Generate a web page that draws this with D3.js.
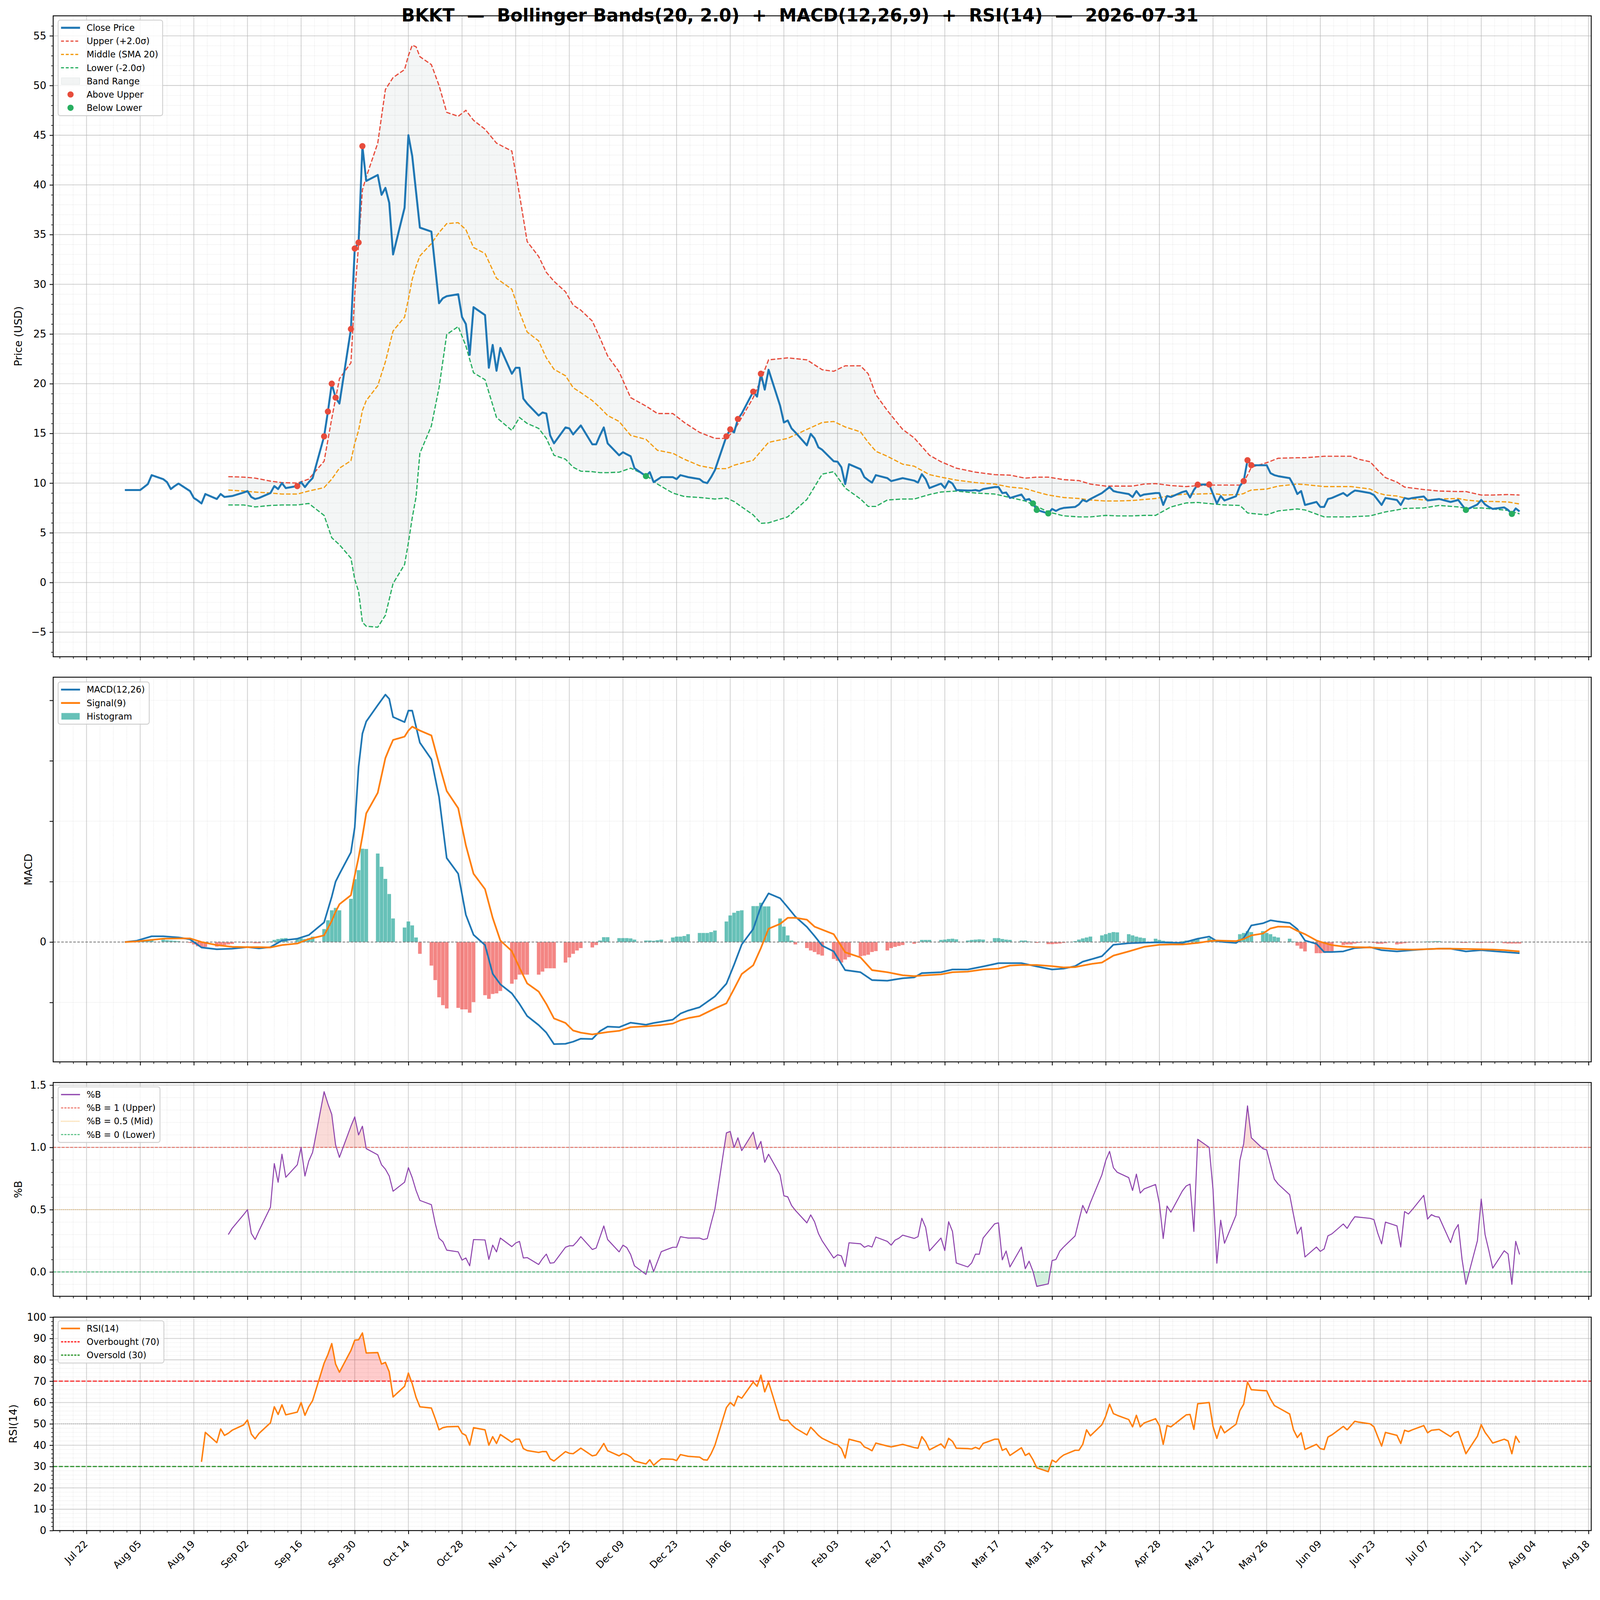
<!DOCTYPE html>
<html>
<head>
<meta charset="utf-8">
<script src="https://cdn.jsdelivr.net/npm/d3@7"></script>
<style>
  html, body { margin: 0; padding: 0; background: #fff; width: 100%; height: 100%; overflow: hidden; }
  svg { display: block; width: 100vw; height: 100vh; font-family: "DejaVu Sans", sans-serif; }
</style>
</head>
<body>
<svg id="chart"></svg>
<script>
// ---- data ----
const firstDay = "2025-08-01", lastDay = "2026-07-31";   // business days in between

// daily close, one per business day
const closeVals = [9.3,
  9.3,9.3,9.6,9.9,10.8, 10.4,10.1,9.4,9.7,9.95, 9.2,8.5,8.25,7.95,8.9, 8.4,8.9,8.6,8.65,8.7,
  9.05,9.2,8.6,8.4,8.5, 9.0,9.7,9.4,10.0,9.5, 9.7,10.1,9.6,10.1,10.5, 14.7,17.2,20.0,18.6,18.0,
  25.5,33.6,34.2,43.9,40.4, 41.0,39.0,39.7,38.2,33.0, 37.7,45.0,42.9,39.3,35.7, 35.3,31.7,28.1,28.6,28.8,
  29.0,26.7,26.0,22.9,27.7, 26.9,21.6,23.9,21.3,23.6, 21.0,21.6,21.6,18.5,18.0, 16.8,17.1,17.0,14.8,14.0,
  15.6,15.5,14.9,15.35,15.8, 13.9,13.9,14.8,15.6,14.0, 12.8,13.1,12.9,12.7,11.5, 10.7,11.1,10.1,10.35,10.6,
  10.6,10.4,10.8,10.7,10.6, 10.4,10.1,10.0,10.6,11.3, 14.7,15.4,15.1,16.45,17.0, 19.2,18.7,21.0,19.4,21.4,
  17.8,16.1,16.3,15.5,15.1, 13.8,14.95,14.5,13.6,13.35, 12.2,12.15,11.6,9.9,11.9, 11.4,10.6,10.3,10.05,10.8,
  10.5,10.2,10.3,10.4,10.5, 10.25,10.05,10.9,10.4,9.5, 9.95,9.5,10.2,9.95,9.3, 9.25,9.25,9.3,9.2,9.4,
  9.6,9.6,9.0,9.05,8.5, 8.85,8.3,8.4,7.95,7.3, 6.95,7.4,7.2,7.4,7.5, 7.6,7.85,8.3,8.15,8.4,
  9.0,9.3,9.6,9.2,9.1, 8.9,8.6,9.2,8.7,8.85, 9.0,9.0,7.8,8.7,8.6, 9.1,9.2,8.55,9.3,9.84,
  9.86,8.9,7.95,8.7,8.25, 8.68,9.7,10.2,12.3,11.8, 11.8,11.8,11.0,10.8,10.7, 10.5,9.8,8.9,9.2,7.8,
  8.1,7.6,7.6,8.4,8.5, 9.0,8.7,9.0,9.25,9.2, 9.0,8.8,8.3,7.8,8.5, 8.3,7.8,8.5,8.4,8.5,
  8.65,8.25,8.3,8.35,8.4, 8.1,8.2,8.3,7.8,7.3, 7.85,8.3,7.85,7.6,7.4, 7.55,7.3,6.9,7.45,7.15];

// Bollinger band samples
const bandDates = ["2025-08-28","2025-09-01","2025-09-04","2025-09-08","2025-09-11","2025-09-15","2025-09-18","2025-09-22","2025-09-24","2025-09-26",
  "2025-09-29","2025-09-30","2025-10-01","2025-10-02","2025-10-03","2025-10-06","2025-10-08","2025-10-10","2025-10-13","2025-10-14",
  "2025-10-15","2025-10-16","2025-10-17","2025-10-20","2025-10-22","2025-10-24","2025-10-27","2025-10-29","2025-10-31","2025-11-03",
  "2025-11-06","2025-11-10","2025-11-12","2025-11-14","2025-11-17","2025-11-19","2025-11-21","2025-11-24","2025-11-26","2025-11-28",
  "2025-12-01","2025-12-03","2025-12-05","2025-12-08","2025-12-11","2025-12-15","2025-12-18","2025-12-22","2025-12-25","2025-12-29",
  "2026-01-02","2026-01-05","2026-01-07","2026-01-09","2026-01-12","2026-01-14","2026-01-16","2026-01-21","2026-01-26","2026-01-30",
  "2026-02-02","2026-02-05","2026-02-09","2026-02-11","2026-02-13","2026-02-16","2026-02-20","2026-02-23","2026-02-27","2026-03-02",
  "2026-03-06","2026-03-11","2026-03-16","2026-03-20","2026-03-24","2026-03-27","2026-03-30","2026-04-03","2026-04-07","2026-04-10",
  "2026-04-14","2026-04-17","2026-04-21","2026-04-24","2026-04-27","2026-05-01","2026-05-05","2026-05-08","2026-05-12","2026-05-15",
  "2026-05-19","2026-05-20","2026-05-21","2026-05-22","2026-05-26","2026-05-29","2026-06-03","2026-06-05","2026-06-10","2026-06-12",
  "2026-06-17","2026-06-19","2026-06-22","2026-06-24","2026-06-26","2026-06-29","2026-07-01","2026-07-06","2026-07-10","2026-07-15",
  "2026-07-17","2026-07-21","2026-07-24","2026-07-28","2026-07-31"];
const upperVals = [10.65,10.6,10.5,10.2,10.05,10.0,10.4,12.2,16.5,20.5,
  22.1,29,34,39.5,40.8,44.2,49.6,50.8,51.6,53.0,
  54.05,53.9,52.9,52.1,50.0,47.3,46.9,47.5,46.5,45.6,
  44.2,43.4,39.0,34.3,32.8,31.2,30.3,29.25,27.9,27.4,
  26.3,24.6,22.8,21.2,18.6,17.75,17.0,17.0,16.1,15.1,
  14.5,14.5,15.3,16.6,18.6,20.4,22.4,22.6,22.4,21.4,
  21.25,21.8,21.8,21.0,18.9,17.3,15.4,14.55,12.8,12.15,
  11.5,11.1,10.85,10.8,10.5,10.6,10.6,10.35,10.25,9.9,
  9.7,9.7,9.7,9.9,9.95,9.75,9.65,9.75,9.8,9.8,
  9.8,10.1,10.8,11.6,12.05,12.5,12.55,12.55,12.7,12.7,
  12.7,12.4,12.15,11.3,10.55,10.1,9.6,9.35,9.2,9.15,
  9.15,8.8,8.8,8.85,8.8];
const middleVals = [9.3,9.2,9.1,9.0,8.9,8.9,9.2,9.55,10.4,11.5,
  12.25,14.0,15.3,17.3,18.3,19.8,22.2,25.3,26.7,28.5,
  30.5,31.8,32.85,34.1,35.2,36.1,36.2,35.5,33.7,33.1,
  30.6,29.5,27.2,25.2,24.3,22.6,21.45,20.8,19.6,19.1,
  18.3,17.6,16.8,16.2,14.8,14.4,13.3,13.0,12.4,11.75,
  11.45,11.45,11.8,12.0,12.3,13.2,14.1,14.5,15.4,16.1,
  16.2,15.65,15.15,14.1,13.2,12.7,11.9,11.7,10.85,10.6,
  10.3,10.05,9.9,9.6,9.45,9.1,8.8,8.55,8.45,8.3,
  8.2,8.2,8.25,8.35,8.45,8.75,8.9,8.9,8.95,8.8,
  8.85,8.95,9.15,9.3,9.4,9.7,9.9,9.85,9.65,9.65,
  9.65,9.55,9.4,9.0,8.8,8.7,8.5,8.3,8.4,8.45,
  8.3,8.15,8.15,8.1,7.9];
const lowerVals = [7.8,7.8,7.6,7.75,7.8,7.8,7.95,6.75,4.5,3.8,
  2.45,0.3,-0.9,-4.0,-4.4,-4.5,-3.3,-0.1,1.8,4.0,
  6.5,8.6,13.0,15.75,19.6,24.95,25.75,23.8,21.1,20.4,
  16.6,15.3,16.6,16.0,15.5,14.5,12.8,12.4,11.6,11.2,
  11.15,11.05,11.05,11.1,11.5,10.8,9.9,9.0,8.65,8.55,
  8.4,8.5,8.15,7.6,6.8,5.95,6.0,6.6,8.35,10.9,
  11.15,9.5,8.4,7.65,7.65,8.3,8.4,8.4,8.85,9.1,
  9.2,9.0,8.9,8.55,8.2,7.65,7.1,6.7,6.6,6.6,
  6.75,6.7,6.7,6.75,6.75,7.6,8.0,8.05,7.9,7.8,
  7.75,7.4,7.0,6.95,6.8,7.2,7.4,7.3,6.6,6.6,
  6.6,6.65,6.7,6.9,7.1,7.3,7.45,7.5,7.75,7.6,
  7.45,7.5,7.4,7.25,6.9];

// band breakouts (dates of the markers)
const aboveDates = ["2025-09-15","2025-09-22","2025-09-23","2025-09-24","2025-09-25","2025-09-29","2025-09-30","2025-10-01","2025-10-02",
  "2026-01-05","2026-01-06","2026-01-08","2026-01-12","2026-01-14","2026-05-08","2026-05-11","2026-05-20","2026-05-21","2026-05-22"];
const belowDates = ["2025-12-15","2026-03-26","2026-03-27","2026-03-30","2026-07-17","2026-07-29"];

// MACD and signal samples
const macdDates = ["2025-08-01","2025-08-04","2025-08-08","2025-08-11","2025-08-15","2025-08-18","2025-08-21","2025-08-25","2025-08-29","2025-09-02",
  "2025-09-05","2025-09-08","2025-09-11","2025-09-15","2025-09-18","2025-09-22","2025-09-24","2025-09-25","2025-09-26","2025-09-29",
  "2025-09-30","2025-10-01","2025-10-02","2025-10-03","2025-10-06","2025-10-08","2025-10-09","2025-10-10","2025-10-13","2025-10-14",
  "2025-10-15","2025-10-17","2025-10-20","2025-10-22","2025-10-24","2025-10-27","2025-10-29","2025-10-31","2025-11-03","2025-11-05",
  "2025-11-07","2025-11-10","2025-11-12","2025-11-14","2025-11-17","2025-11-19","2025-11-21","2025-11-24","2025-11-26","2025-11-28",
  "2025-12-01","2025-12-03","2025-12-05","2025-12-08","2025-12-11","2025-12-15","2025-12-17","2025-12-19","2025-12-22","2025-12-24",
  "2025-12-26","2025-12-29","2026-01-02","2026-01-05","2026-01-07","2026-01-09","2026-01-12","2026-01-14","2026-01-16","2026-01-19",
  "2026-01-21","2026-01-23","2026-01-26","2026-01-28","2026-01-30","2026-02-02","2026-02-05","2026-02-09","2026-02-12","2026-02-16",
  "2026-02-20","2026-02-23","2026-02-25","2026-03-02","2026-03-05","2026-03-09","2026-03-13","2026-03-17","2026-03-20","2026-03-23",
  "2026-03-27","2026-03-31","2026-04-03","2026-04-06","2026-04-08","2026-04-10","2026-04-13","2026-04-16","2026-04-20","2026-04-24",
  "2026-04-28","2026-05-01","2026-05-04","2026-05-08","2026-05-11","2026-05-13","2026-05-15","2026-05-18","2026-05-20","2026-05-22",
  "2026-05-25","2026-05-27","2026-05-29","2026-06-01","2026-06-03","2026-06-05","2026-06-08","2026-06-10","2026-06-12","2026-06-15",
  "2026-06-18","2026-06-22","2026-06-25","2026-06-29","2026-07-03","2026-07-06","2026-07-10","2026-07-13","2026-07-17","2026-07-21",
  "2026-07-24","2026-07-27","2026-07-31"];
const macdVals = [0.0,0.04,0.19,0.19,0.15,0.09,-0.18,-0.24,-0.22,-0.17,
  -0.21,-0.17,0.05,0.11,0.23,0.65,1.5,2.0,2.25,2.97,
  3.8,5.8,6.9,7.3,7.84,8.19,8.05,7.45,7.28,7.66,
  7.66,6.6,6.05,4.8,2.78,2.26,0.9,0.24,-0.1,-1.05,
  -1.4,-1.7,-2.05,-2.45,-2.75,-3.0,-3.38,-3.37,-3.3,-3.2,
  -3.21,-2.95,-2.8,-2.82,-2.67,-2.74,-2.68,-2.64,-2.57,-2.37,
  -2.27,-2.16,-1.8,-1.38,-0.75,-0.08,0.43,1.18,1.61,1.45,
  1.15,0.84,0.5,0.2,-0.12,-0.31,-0.93,-1.0,-1.26,-1.28,
  -1.2,-1.17,-1.03,-1.0,-0.91,-0.91,-0.81,-0.7,-0.7,-0.7,
  -0.81,-0.91,-0.88,-0.8,-0.65,-0.58,-0.47,-0.09,-0.04,-0.02,
  -0.01,-0.02,-0.03,0.11,0.18,0.03,0.0,-0.03,0.13,0.55,
  0.62,0.72,0.68,0.63,0.43,0.05,-0.06,-0.33,-0.33,-0.31,
  -0.2,-0.17,-0.27,-0.31,-0.27,-0.24,-0.22,-0.22,-0.31,-0.27,
  -0.3,-0.33,-0.37];
const signalVals = [0.0,0.02,0.07,0.11,0.12,0.12,0.0,-0.1,-0.16,-0.17,
  -0.17,-0.18,-0.1,-0.05,0.1,0.22,0.7,1.0,1.25,1.55,
  2.2,2.8,3.5,4.26,4.94,6.09,6.4,6.69,6.8,7.0,
  7.13,7.0,6.84,5.9,5.0,4.43,3.2,2.26,1.75,0.8,
  0.05,-0.3,-0.85,-1.37,-1.64,-2.05,-2.53,-2.68,-2.93,-3.0,
  -3.06,-3.02,-2.98,-2.94,-2.82,-2.79,-2.77,-2.75,-2.7,-2.59,
  -2.52,-2.45,-2.2,-2.03,-1.55,-1.06,-0.77,-0.2,0.44,0.6,
  0.8,0.8,0.74,0.51,0.41,0.26,-0.34,-0.51,-0.93,-1.0,
  -1.1,-1.13,-1.11,-1.07,-1.0,-0.98,-0.91,-0.88,-0.78,-0.76,
  -0.76,-0.8,-0.84,-0.83,-0.78,-0.73,-0.68,-0.45,-0.31,-0.16,
  -0.09,-0.08,-0.08,-0.03,0.03,0.05,0.04,0.03,0.1,0.22,
  0.28,0.45,0.51,0.5,0.37,0.26,0.05,-0.03,-0.1,-0.15,
  -0.17,-0.18,-0.2,-0.24,-0.25,-0.24,-0.22,-0.22,-0.23,-0.24,
  -0.25,-0.27,-0.31];

// MACD histogram, one bar per business day
const histVals = [0.0,
  0.02,0.03,0.05,0.07,0.09, 0.08,0.06,0.05,0.04,0.03, -0.03,-0.08,-0.14,-0.17,-0.16, -0.15,-0.13,-0.1,-0.08,-0.06,
  -0.03,-0.01,-0.02,-0.04,-0.04, 0.02,0.07,0.1,0.12,0.13, 0.13,0.12,0.1,0.12,0.18, 0.43,0.72,1.05,1.13,1.05,
  1.43,2.08,2.38,3.09,3.08, 2.93,2.49,2.09,1.59,0.78, 0.48,0.68,0.55,0.15,-0.39, -0.78,-1.26,-1.83,-2.09,-2.2,
  -2.18,-2.23,-2.23,-2.34,-1.99, -1.76,-1.88,-1.72,-1.7,-1.62, -1.38,-1.24,-1.08,-1.08,-1.08, -1.08,-0.98,-0.87,-0.87,-0.87,
  -0.68,-0.51,-0.39,-0.28,-0.2, -0.18,-0.1,0.05,0.16,0.16, 0.13,0.13,0.13,0.12,0.08, 0.05,0.05,0.04,0.06,0.08,
  0.15,0.18,0.18,0.2,0.26, 0.3,0.3,0.3,0.33,0.38, 0.68,0.88,0.97,1.03,1.05, 1.19,1.19,1.3,1.18,1.18,
  0.78,0.51,0.22,0.05,-0.08, -0.2,-0.28,-0.33,-0.41,-0.45, -0.56,-0.62,-0.68,-0.58,-0.5, -0.47,-0.45,-0.42,-0.33,-0.3,
  -0.28,-0.2,-0.16,-0.13,-0.1, -0.06,-0.02,0.07,0.07,0.07, 0.07,0.08,0.1,0.11,0.09, 0.05,0.07,0.08,0.09,0.08,
  0.13,0.13,0.1,0.08,0.07, 0.05,0.05,0.02,0.0,-0.03, -0.07,-0.07,-0.06,-0.05,-0.03, 0.03,0.08,0.12,0.15,0.18,
  0.22,0.26,0.3,0.33,0.32, 0.26,0.22,0.18,0.15,0.13, 0.11,0.07,0.04,0.02,0.02, 0.03,0.05,0.05,0.07,0.1,
  0.13,0.08,0.04,0.0,-0.02, 0.03,0.26,0.3,0.36,0.33, 0.36,0.3,0.26,0.18,0.15, 0.11,0.02,-0.12,-0.22,-0.31,
  -0.37,-0.37,-0.36,-0.35,-0.34, -0.1,-0.08,-0.08,-0.05,-0.03, -0.01,-0.03,-0.06,-0.06,-0.04, -0.08,-0.06,-0.04,-0.02,-0.01,
  0.01,0.02,0.02,0.03,0.03, 0.01,0.0,-0.01,-0.03,-0.03, -0.03,-0.03,-0.02,-0.02,-0.03, -0.04,-0.05,-0.05,-0.05,-0.05];

// %B, one per business day from pctbStart
const pctbStart = "2025-08-28";
const pctbVals = [0.30,0.35,
  0.46,0.50,0.31,0.26,0.33, 0.52,0.87,0.72,0.945,0.76, 0.86,1.0,0.77,0.89,0.96, 1.447,1.35,1.265,1.02,0.92,
  1.17,1.245,1.1,1.17,0.99, 0.94,0.86,0.825,0.77,0.648, 0.72,0.837,0.757,0.654,0.574, 0.54,0.39,0.27,0.243,0.175,
  0.161,0.095,0.112,0.049,0.26, 0.257,0.10,0.215,0.161,0.272, 0.203,0.232,0.245,0.112,0.115, 0.06,0.106,0.143,0.07,0.074,
  0.198,0.21,0.21,0.243,0.283, 0.18,0.192,0.28,0.369,0.26, 0.161,0.215,0.195,0.14,0.049, -0.02,0.097,0.003,0.083,0.163,
  0.198,0.198,0.283,0.277,0.272, 0.272,0.26,0.268,0.39,0.506, 1.116,1.128,0.999,1.077,0.974, 1.122,0.985,1.048,0.88,0.945,
  0.78,0.611,0.603,0.534,0.494, 0.394,0.458,0.403,0.31,0.249, 0.112,0.138,0.129,0.043,0.234, 0.226,0.198,0.211,0.2,0.28,
  0.245,0.215,0.255,0.27,0.295, 0.269,0.283,0.431,0.357,0.169, 0.272,0.172,0.403,0.325,0.072, 0.04,0.072,0.143,0.142,0.272,
  0.386,0.394,0.097,0.168,0.04, 0.2,0.026,0.086,0.006,-0.116, -0.096,0.091,0.10,0.166,0.2, 0.289,0.414,0.534,0.471,0.557,
  0.78,0.894,0.968,0.837,0.80, 0.757,0.654,0.785,0.633,0.666, 0.702,0.551,0.268,0.529,0.48, 0.65,0.69,0.705,0.325,1.065,
  1.0,0.66,0.07,0.415,0.23, 0.455,0.894,1.03,1.333,1.077, 0.99,0.98,0.86,0.745,0.705, 0.62,0.46,0.305,0.36,0.12,
  0.2,0.165,0.185,0.29,0.305, 0.385,0.35,0.40,0.443,0.44, 0.43,0.42,0.31,0.225,0.40, 0.37,0.2,0.485,0.465,0.5,
  0.615,0.424,0.46,0.445,0.44, 0.235,0.33,0.38,0.1,-0.1, 0.25,0.585,0.3,0.17,0.03, 0.17,0.145,-0.1,0.246,0.14];

// RSI(14), one per business day from rsiStart
const rsiStart = "2025-08-21";
const rsiVals = [32.2,46.0,
  41.2,47.6,44.6,45.6,47.0, 49.5,51.8,45.2,43.0,45.5, 50.5,58.0,54.4,58.9,54.2, 55.5,60.0,54.0,58.0,60.9,
  78.4,82.5,87.6,78.0,74.2, 84.4,89.2,89.4,92.6,83.2, 83.4,78.0,78.8,74.4,62.6, 67.6,73.8,68.8,62.4,58.0,
  57.4,52.5,47.2,48.2,48.6, 48.8,45.6,44.6,40.0,48.2, 47.2,40.0,44.0,40.8,45.0, 41.4,42.8,42.8,38.4,37.5,
  36.6,37.0,37.0,33.6,32.6, 37.0,36.2,36.0,37.3,38.6, 35.0,35.4,38.0,40.8,37.4, 35.0,36.2,35.6,34.5,32.6,
  31.2,33.2,30.6,32.2,33.6, 33.4,32.8,35.6,35.2,34.8, 34.4,33.2,33.0,36.0,40.0, 57.6,60.0,58.4,63.0,62.0,
  69.6,67.6,72.8,65.0,69.6, 52.0,51.5,51.8,49.6,48.0, 44.8,48.4,46.6,44.6,43.2, 40.6,40.2,38.4,34.0,42.8,
  41.4,39.2,38.4,37.4,41.0, 39.6,39.2,39.6,40.0,40.4, 38.9,38.6,44.0,41.6,37.8, 40.6,38.6,43.2,41.8,38.6,
  38.4,38.2,39.0,38.2,40.8, 42.8,42.8,37.6,38.4,35.2, 38.8,35.2,36.2,33.2,29.4, 27.6,33.0,32.0,34.0,35.4,
  37.6,37.6,40.4,47.2,44.4, 49.6,53.6,59.2,54.8,54.0, 52.0,48.6,54.0,48.6,50.4, 52.4,49.2,40.4,49.2,48.6,
  52.8,54.2,54.4,47.4,59.4, 60.0,48.8,43.2,49.0,45.8, 49.8,56.2,59.2,69.6,66.0, 65.6,65.5,61.6,58.6,57.6,
  54.6,47.2,43.6,45.8,38.0, 40.4,38.4,38.0,43.8,44.8, 48.8,47.2,49.2,51.2,50.8, 50.0,48.6,44.0,39.6,46.0,
  44.6,40.8,47.0,46.4,47.2, 49.2,45.8,47.0,47.2,47.4, 44.0,45.8,46.4,41.2,36.0, 44.2,49.6,46.0,43.6,41.0,
  42.8,42.0,36.0,44.2,41.2];

// axis ticks
const xTickStart = "2025-07-22";
const xTickCount = 29, xTickStepDays = 14, xMinorPerMajor = 4;
const priceTicks = [-5,0,5,10,15,20,25,30,35,40,45,50,55];
const macdTicks = [-2,0,2,4,6,8];
const pctbTicks = [0,0.5,1.0,1.5];
const rsiTicks = [0,10,20,30,40,50,60,70,80,90,100];
const titleText = "BKKT  \u2014  Bollinger Bands(20, 2.0)  +  MACD(12,26,9)  +  RSI(14)  \u2014  2026-07-31";

// ---- setup ----
const W = 4378, H = 4322;
const L = 145.5, R = 4354;
const P = { price: [43.3, 1797], macd: [1853, 2905.5], pctb: [2962, 3547], rsi: [3604, 4188] };

const svg = d3.select("#chart").attr("viewBox", `0 0 ${W} ${H}`)
  .attr("preserveAspectRatio", "xMidYMin meet");
svg.append("rect").attr("width", W).attr("height", H).attr("fill", "#fff");

const parse = d3.utcParse("%Y-%m-%d"), iso = d3.utcFormat("%Y-%m-%d");
const days = d3.utcDays(parse(firstDay), d3.utcDay.offset(parse(lastDay), 1))
  .filter(d => d.getUTCDay() % 6 !== 0);

function check(name, arr, n) {
  if (arr.length !== n) throw new Error(name + " has " + arr.length + " values, expected " + n);
}
check("closeVals", closeVals, days.length);
check("histVals", histVals, days.length);
check("upperVals", upperVals, bandDates.length);
check("middleVals", middleVals, bandDates.length);
check("lowerVals", lowerVals, bandDates.length);
check("macdVals", macdVals, macdDates.length);
check("signalVals", signalVals, macdDates.length);
const pIdx = days.findIndex(d => iso(d) === pctbStart);
const rIdx = days.findIndex(d => iso(d) === rsiStart);
check("pctbVals", pctbVals, days.length - pIdx);
check("rsiVals", rsiVals, days.length - rIdx);

const closeData = days.map((d, i) => ({ date: d, v: closeVals[i] }));
const histData = days.map((d, i) => ({ date: d, v: histVals[i] }));
const pctbData = pctbVals.map((v, k) => ({ date: days[pIdx + k], v }));
const rsiData = rsiVals.map((v, k) => ({ date: days[rIdx + k], v }));
const bandData = bandDates.map((s, k) => ({ date: parse(s), u: upperVals[k], m: middleVals[k], l: lowerVals[k] }));
const macdData = macdDates.map((s, k) => ({ date: parse(s), m: macdVals[k], s: signalVals[k] }));
const closeByDay = new Map(closeData.map(d => [iso(d.date), d.v]));

// scales
const x = d3.scaleUtc()
  .domain([d3.utcHour.offset(days[0], -449), d3.utcHour.offset(days[days.length - 1], 449)])
  .range([L, R]);
const yP = d3.scaleLinear().domain([-7.47, 57.01]).range([P.price[1], P.price[0]]);
const yM = d3.scaleLinear().domain([-3.967, 8.767]).range([P.macd[1], P.macd[0]]);
const yB = d3.scaleLinear().domain([-0.1957, 1.5209]).range([P.pctb[1], P.pctb[0]]);
const yR = d3.scaleLinear().domain([0, 100]).range([P.rsi[1], P.rsi[0]]);

const t0 = parse(xTickStart);
const xMajor = d3.range(xTickCount).map(k => d3.utcDay.offset(t0, k * xTickStepDays));
const [xd0, xd1] = x.domain();
const xMinor = d3.range(-xMinorPerMajor, xTickCount * xMinorPerMajor)
  .filter(k => k % xMinorPerMajor !== 0)
  .map(k => new Date(t0.getTime() + k * (xTickStepDays / xMinorPerMajor) * 864e5))
  .filter(d => d >= xd0 && d <= xd1);

// ---- helpers ----
const minorStyle = s => s.attr("stroke", "#b0b0b0").attr("stroke-opacity", 0.45)
  .attr("stroke-width", 1.4).attr("stroke-dasharray", "1.4,2.6");
const majorStyle = s => s.attr("stroke", "#b0b0b0").attr("stroke-opacity", 0.6).attr("stroke-width", 2.2);

function grid(top, bottom, y, majors, minors) {
  const g = svg.append("g");
  g.selectAll("line.vmin").data(xMinor).join("line").attr("class", "vmin")
    .attr("x1", d => x(d)).attr("x2", d => x(d)).attr("y1", top).attr("y2", bottom).call(minorStyle);
  g.selectAll("line.hmin").data(minors).join("line").attr("class", "hmin")
    .attr("x1", L).attr("x2", R).attr("y1", d => y(d)).attr("y2", d => y(d)).call(minorStyle);
  g.selectAll("line.vmaj").data(xMajor).join("line").attr("class", "vmaj")
    .attr("x1", d => x(d)).attr("x2", d => x(d)).attr("y1", top).attr("y2", bottom).call(majorStyle);
  g.selectAll("line.hmaj").data(majors).join("line").attr("class", "hmaj")
    .attr("x1", L).attr("x2", R).attr("y1", d => y(d)).attr("y2", d => y(d)).call(majorStyle);
}

function hline(v, y, color, opacity, width, dash) {
  svg.append("line").attr("x1", L).attr("x2", R).attr("y1", y(v)).attr("y2", y(v))
    .attr("stroke", color).attr("stroke-opacity", opacity).attr("stroke-width", width)
    .attr("stroke-dasharray", dash);
}

function axes(top, bottom, y, ticks, minorTicks, fmt, xLabels) {
  svg.append("rect").attr("x", L).attr("y", top).attr("width", R - L).attr("height", bottom - top)
    .attr("fill", "none").attr("stroke", "#000").attr("stroke-width", 2.4);

  const ya = svg.append("g").attr("transform", `translate(${L},0)`)
    .call(d3.axisLeft(y).tickValues(ticks).tickSize(9.7).tickPadding(9).tickFormat(fmt));
  ya.select(".domain").remove();
  ya.attr("font-family", "DejaVu Sans").attr("font-size", 28);
  ya.selectAll(".tick line").attr("stroke", "#000").attr("stroke-width", 2.2);
  ya.selectAll(".tick text").attr("fill", "#000");
  if (minorTicks.length) {
    const ym = svg.append("g").attr("transform", `translate(${L},0)`)
      .call(d3.axisLeft(y).tickValues(minorTicks).tickSize(5.6).tickFormat(""));
    ym.select(".domain").remove();
    ym.selectAll(".tick line").attr("stroke", "#000").attr("stroke-width", 1.6);
  }

  const xa = svg.append("g").attr("transform", `translate(0,${bottom})`)
    .call(d3.axisBottom(x).tickValues(xMajor).tickSize(9.7)
      .tickFormat(xLabels ? d3.utcFormat("%b %d") : () => ""));
  xa.select(".domain").remove();
  xa.attr("font-family", "DejaVu Sans").attr("font-size", 27);
  xa.selectAll(".tick line").attr("stroke", "#000").attr("stroke-width", 2.2);
  if (xLabels) {
    xa.selectAll(".tick text").attr("fill", "#000").attr("text-anchor", "end")
      .attr("x", 0).attr("y", 0).attr("dy", "0.75em")
      .attr("transform", "translate(-10,24) rotate(-45)");
  }
  const xm = svg.append("g").attr("transform", `translate(0,${bottom})`)
    .call(d3.axisBottom(x).tickValues(xMinor).tickSize(5.6).tickFormat(""));
  xm.select(".domain").remove();
  xm.selectAll(".tick line").attr("stroke", "#000").attr("stroke-width", 1.6);
}

function ylabel(text, cx, top, bottom) {
  svg.append("text").attr("transform", `translate(${cx},${(top + bottom) / 2}) rotate(-90)`)
    .attr("text-anchor", "middle").attr("dominant-baseline", "central")
    .attr("font-size", 29).attr("fill", "#000").text(text);
}

function legend(top, rows) {
  const g = svg.append("g");
  const box = g.append("rect").attr("x", 159).attr("y", top).attr("height", rows.length * 36.5 + 6)
    .attr("rx", 6).attr("fill", "#fff").attr("fill-opacity", 0.8)
    .attr("stroke", "#cccccc").attr("stroke-width", 2.2);
  let maxW = 0;
  rows.forEach((r, k) => {
    const cy = top + 21 + 36.5 * k;
    if (r.kind === "line") {
      g.append("line").attr("x1", 167).attr("x2", 219).attr("y1", cy).attr("y2", cy)
        .attr("stroke", r.color).attr("stroke-opacity", r.opacity || 1)
        .attr("stroke-width", r.width).attr("stroke-dasharray", r.dash || null);
    } else if (r.kind === "patch") {
      g.append("rect").attr("x", 168).attr("y", cy - 9).attr("width", 50).attr("height", 18)
        .attr("fill", r.color).attr("fill-opacity", r.opacity || 1)
        .attr("stroke", r.stroke || "none").attr("stroke-width", 1.5);
    } else {
      g.append("circle").attr("cx", 193).attr("cy", cy).attr("r", 8.5).attr("fill", r.color);
    }
    const t = g.append("text").attr("x", 237).attr("y", cy).attr("dominant-baseline", "central")
      .attr("font-size", 24).attr("fill", "#000").text(r.label);
    maxW = Math.max(maxW, t.node().getComputedTextLength());
  });
  box.attr("width", 78 + maxW + 12);
}

function fillBeyond(data, y, level, above, color, opacity, top, bottom, id) {
  const clip = svg.append("clipPath").attr("id", id).append("rect").attr("x", L).attr("width", R - L);
  if (above) clip.attr("y", top).attr("height", y(level) - top);
  else clip.attr("y", y(level)).attr("height", bottom - y(level));
  svg.append("path").datum(data).attr("clip-path", `url(#${id})`)
    .attr("fill", color).attr("fill-opacity", opacity)
    .attr("d", d3.area().x(d => x(d.date)).y0(y(level)).y1(d => y(d.v)));
}

// ---- price panel ----
grid(P.price[0], P.price[1], yP, priceTicks, d3.range(-7, 57).filter(v => v % 5 !== 0));

svg.append("path").datum(bandData)
  .attr("fill", "#95a5a6").attr("fill-opacity", 0.1)
  .attr("d", d3.area().x(d => x(d.date)).y0(d => yP(d.l)).y1(d => yP(d.u)));

const bandStyles = [["u", "#e74c3c"], ["m", "#f39c12"], ["l", "#27ae60"]];
bandStyles.forEach(([key, color]) => {
  svg.append("path").datum(bandData)
    .attr("fill", "none").attr("stroke", color).attr("stroke-width", 3.3)
    .attr("stroke-dasharray", "12.3,5.3")
    .attr("d", d3.line().x(d => x(d.date)).y(d => yP(d[key])));
});

svg.append("path").datum(closeData)
  .attr("fill", "none").attr("stroke", "#1f77b4").attr("stroke-width", 5.4)
  .attr("stroke-linejoin", "round")
  .attr("d", d3.line().x(d => x(d.date)).y(d => yP(d.v)));

svg.selectAll("circle.above").data(aboveDates).join("circle").attr("class", "above")
  .attr("cx", d => x(parse(d))).attr("cy", d => yP(closeByDay.get(d))).attr("r", 8.5)
  .attr("fill", "#e74c3c");
svg.selectAll("circle.below").data(belowDates).join("circle").attr("class", "below")
  .attr("cx", d => x(parse(d))).attr("cy", d => yP(closeByDay.get(d))).attr("r", 8.5)
  .attr("fill", "#27ae60");

axes(P.price[0], P.price[1], yP, priceTicks, d3.range(-7, 57).filter(v => v % 5 !== 0),
  d => d < 0 ? "\u2212" + Math.abs(d) : String(d), false);
ylabel("Price (USD)", 50, P.price[0], P.price[1]);
legend(55, [
  { kind: "line", label: "Close Price", color: "#1f77b4", width: 5.4 },
  { kind: "line", label: "Upper (+2.0\u03c3)", color: "#e74c3c", width: 3.3, dash: "8,5" },
  { kind: "line", label: "Middle (SMA 20)", color: "#f39c12", width: 3.3, dash: "8,5" },
  { kind: "line", label: "Lower (-2.0\u03c3)", color: "#27ae60", width: 3.3, dash: "8,5" },
  { kind: "patch", label: "Band Range", color: "#95a5a6", opacity: 0.12, stroke: "#e6eaea" },
  { kind: "dot", label: "Above Upper", color: "#e74c3c" },
  { kind: "dot", label: "Below Lower", color: "#27ae60" }
]);

// ---- MACD panel ----
grid(P.macd[0], P.macd[1], yM, [], macdTicks.filter(v => v !== 0));

const dayW = x(d3.utcDay.offset(days[0], 1)) - x(days[0]);
svg.selectAll("rect.hist").data(histData).join("rect").attr("class", "hist")
  .attr("x", d => x(d.date) - dayW * 0.47).attr("width", dayW * 0.94)
  .attr("y", d => yM(Math.max(0, d.v))).attr("height", d => Math.abs(yM(d.v) - yM(0)))
  .attr("fill", d => d.v >= 0 ? "#26a69a" : "#ef5350").attr("fill-opacity", 0.7);

hline(0, yM, "#808080", 1, 2.4, "7,4");

svg.append("path").datum(macdData)
  .attr("fill", "none").attr("stroke", "#1f77b4").attr("stroke-width", 4.6).attr("stroke-linejoin", "round")
  .attr("d", d3.line().x(d => x(d.date)).y(d => yM(d.m)));
svg.append("path").datum(macdData)
  .attr("fill", "none").attr("stroke", "#ff7f0e").attr("stroke-width", 4.6).attr("stroke-linejoin", "round")
  .attr("d", d3.line().x(d => x(d.date)).y(d => yM(d.s)));

axes(P.macd[0], P.macd[1], yM, macdTicks, [], d => d === 0 ? "0" : "", false);
ylabel("MACD", 78, P.macd[0], P.macd[1]);
legend(1866, [
  { kind: "line", label: "MACD(12,26)", color: "#1f77b4", width: 5 },
  { kind: "line", label: "Signal(9)", color: "#ff7f0e", width: 5 },
  { kind: "patch", label: "Histogram", color: "#26a69a", opacity: 0.7 }
]);

// ---- %B panel ----
grid(P.pctb[0], P.pctb[1], yB, pctbTicks, d3.range(-1, 16).filter(k => k % 5 !== 0).map(k => k / 10));
fillBeyond(pctbData, yB, 1, true, "#e74c3c", 0.2, P.pctb[0], P.pctb[1], "clipB1");
fillBeyond(pctbData, yB, 0, false, "#27ae60", 0.2, P.pctb[0], P.pctb[1], "clipB0");
hline(1, yB, "#e74c3c", 0.7, 2.8, "8,3.6");
hline(0.5, yB, "#f39c12", 0.55, 2.4, "2.4,3");
hline(0, yB, "#27ae60", 0.7, 2.8, "8,3.6");
svg.append("path").datum(pctbData)
  .attr("fill", "none").attr("stroke", "#8e44ad").attr("stroke-width", 2.8).attr("stroke-linejoin", "round")
  .attr("d", d3.line().x(d => x(d.date)).y(d => yB(d.v)));
axes(P.pctb[0], P.pctb[1], yB, pctbTicks, d3.range(-1, 16).filter(k => k % 5 !== 0).map(k => k / 10),
  d3.format(".1f"), false);
ylabel("%B", 50, P.pctb[0], P.pctb[1]);
legend(2974, [
  { kind: "line", label: "%B", color: "#8e44ad", width: 3.6 },
  { kind: "line", label: "%B = 1 (Upper)", color: "#e74c3c", width: 3.3, opacity: 0.7, dash: "6,3" },
  { kind: "line", label: "%B = 0.5 (Mid)", color: "#f39c12", width: 3, opacity: 0.55, dash: "2,2" },
  { kind: "line", label: "%B = 0 (Lower)", color: "#27ae60", width: 3.3, opacity: 0.7, dash: "6,3" }
]);

// ---- RSI panel ----
grid(P.rsi[0], P.rsi[1], yR, rsiTicks, d3.range(0, 101, 2).filter(v => v % 10 !== 0));
fillBeyond(rsiData, yR, 70, true, "#ff0000", 0.2, P.rsi[0], P.rsi[1], "clipR70");
fillBeyond(rsiData, yR, 30, false, "#008000", 0.2, P.rsi[0], P.rsi[1], "clipR30");
hline(70, yR, "#ff0000", 0.8, 3.3, "11,4.5");
hline(30, yR, "#008000", 0.8, 3.3, "11,4.5");
hline(50, yR, "#808080", 0.55, 2.4, "2.4,3");
svg.append("path").datum(rsiData)
  .attr("fill", "none").attr("stroke", "#ff7f0e").attr("stroke-width", 3.9).attr("stroke-linejoin", "round")
  .attr("d", d3.line().x(d => x(d.date)).y(d => yR(d.v)));
axes(P.rsi[0], P.rsi[1], yR, rsiTicks, d3.range(0, 101, 2).filter(v => v % 10 !== 0), d => String(d), true);
ylabel("RSI(14)", 36, P.rsi[0], P.rsi[1]);
legend(3614, [
  { kind: "line", label: "RSI(14)", color: "#ff7f0e", width: 4.5 },
  { kind: "line", label: "Overbought (70)", color: "#ff0000", width: 3.6, opacity: 0.8, dash: "6,3" },
  { kind: "line", label: "Oversold (30)", color: "#008000", width: 3.6, opacity: 0.8, dash: "6,3" }
]);

// ---- title ----
svg.append("text").attr("x", W / 2).attr("y", 59).attr("text-anchor", "middle")
  .attr("font-size", 48.5).attr("font-weight", "bold").attr("fill", "#000")
  .style("white-space", "pre").text(titleText);
</script>
</body>
</html>
